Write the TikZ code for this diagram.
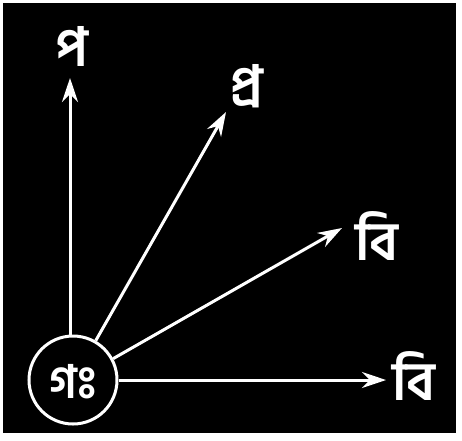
\documentclass[tikz,border=0pt]{standalone}
\usepackage{fontspec}
\newfontfamily\bn[Script=Bengali]{Hind Siliguri}
\usetikzlibrary{arrows.meta}
\begin{document}
\begin{tikzpicture}[x=1pt,y=-1pt,
  lbl/.style={text=white,font=\bn\fontsize{54}{56}\selectfont\bfseries,inner sep=0pt},
  vec/.style={draw=white,line width=3pt,-{Stealth[length=24pt,width=16pt]}}]
\useasboundingbox (0,0) rectangle (462,440);
\fill[black] (3,3) rectangle (456,433);
\node[circle,draw=white,line width=3pt,minimum size=88pt,inner sep=0pt] (c) at (73,380) {};
\node[text=white,font=\bn\fontsize{46}{48}\selectfont\bfseries] at ([yshift=-2pt]c) {গঃ};
\node[lbl] (t1) at (72,46) {প};
\node[lbl] (t2) at (247,86) {প্র};
\node[lbl] (t3) at (377,236) {বি};
\node[lbl] (t4) at (414,376) {বি};
\coordinate (a1) at (70,78);
\coordinate (a2) at (226,112);
\coordinate (a3) at (342,228);
\coordinate (a4) at (386,380);
\draw[vec] (c.north -| a1) -- (a1);
\draw[vec] (c.60) -- (a2);
\draw[vec] (c.28) -- (a3);
\draw[vec] (c.east) -- (a4);
\end{tikzpicture}
\end{document}
